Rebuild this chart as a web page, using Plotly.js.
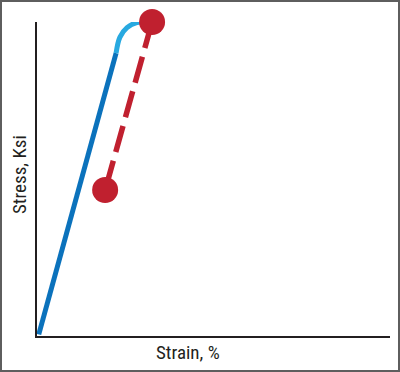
<!DOCTYPE html>
<html>
<head>
<meta charset="utf-8">
<script src="https://cdn.plot.ly/plotly-3.0.1.min.js"></script>
<style>
  html, body { margin: 0; padding: 0; background: #fff; }
  #wrap { position: relative; width: 400px; height: 372px; }
  #chart { width: 400px; height: 372px; }
  #frame { position: absolute; left: 0; top: 0; width: 400px; height: 372px;
           box-sizing: border-box; border: 2px solid #5e5e5e; pointer-events: none; }
</style>
</head>
<body>
<div id="wrap">
  <div id="chart"></div>
  <div id="frame"></div>
</div>
<script>
// Elastic loading segment (dark blue)
const elasticStrain = [0.5, 22.4];
const elasticStress = [0.5, 90.1];
// Yield / plastic segment (light blue)
const yieldStrain = [22.4, 23.5, 25.5, 28.3, 32.6];
const yieldStress = [90.1, 95.2, 98.2, 99.8, 100];
// Unloading path (red dashed) with end points
const unloadStrain = [32.6, 19.3];
const unloadStress = [100, 46.5];

const xTitle = 'Strain, %';
const yTitle = 'Stress, Ksi';

const FONT = '"Liberation Sans Narrow", "Roboto Condensed", "Arial Narrow", "Liberation Sans", Arial, sans-serif';

const traces = [
  {
    x: elasticStrain, y: elasticStress, mode: 'lines', type: 'scatter',
    line: { color: '#0b72bc', width: 5 }, cliponaxis: false, hoverinfo: 'skip'
  },
  {
    x: yieldStrain, y: yieldStress, mode: 'lines', type: 'scatter',
    line: { color: '#28a9e0', width: 5, shape: 'spline', smoothing: 1 }, cliponaxis: false, hoverinfo: 'skip'
  },
  {
    x: unloadStrain, y: unloadStress, mode: 'lines', type: 'scatter',
    line: { color: '#c0202f', width: 5.5, dash: '27px,9px' }, cliponaxis: false, hoverinfo: 'skip'
  },
  {
    x: unloadStrain, y: unloadStress, mode: 'markers', type: 'scatter',
    marker: { color: '#c0202f', size: 26, line: { width: 0 } }, cliponaxis: false, hoverinfo: 'skip'
  }
];

const layout = {
  width: 400, height: 372,
  margin: { l: 37, r: 10, t: 22, b: 36, pad: 0 },
  paper_bgcolor: '#ffffff', plot_bgcolor: '#ffffff',
  showlegend: false,
  font: { family: FONT, color: '#231f20' },
  xaxis: {
    range: [0, 100], showgrid: false, zeroline: false, showticklabels: false, ticks: '',
    showline: true, linecolor: '#231f20', linewidth: 2, fixedrange: true
  },
  yaxis: {
    range: [0, 100], showgrid: false, zeroline: false, showticklabels: false, ticks: '',
    showline: true, linecolor: '#231f20', linewidth: 2, fixedrange: true
  },
  annotations: [
    { text: xTitle, xref: 'paper', yref: 'paper', x: (188 - 37) / 353, y: -(352 - 336) / 314,
      xanchor: 'center', yanchor: 'middle', showarrow: false,
      font: { family: FONT, size: 19, color: '#231f20' } },
    { text: yTitle, xref: 'paper', yref: 'paper', x: -(37 - 19) / 353, y: (336 - 175) / 314,
      xanchor: 'center', yanchor: 'middle', showarrow: false, textangle: -90,
      font: { family: FONT, size: 19, color: '#231f20' } }
  ]
};

Plotly.newPlot('chart', traces, layout, { staticPlot: true, displayModeBar: false });
</script>
</body>
</html>
